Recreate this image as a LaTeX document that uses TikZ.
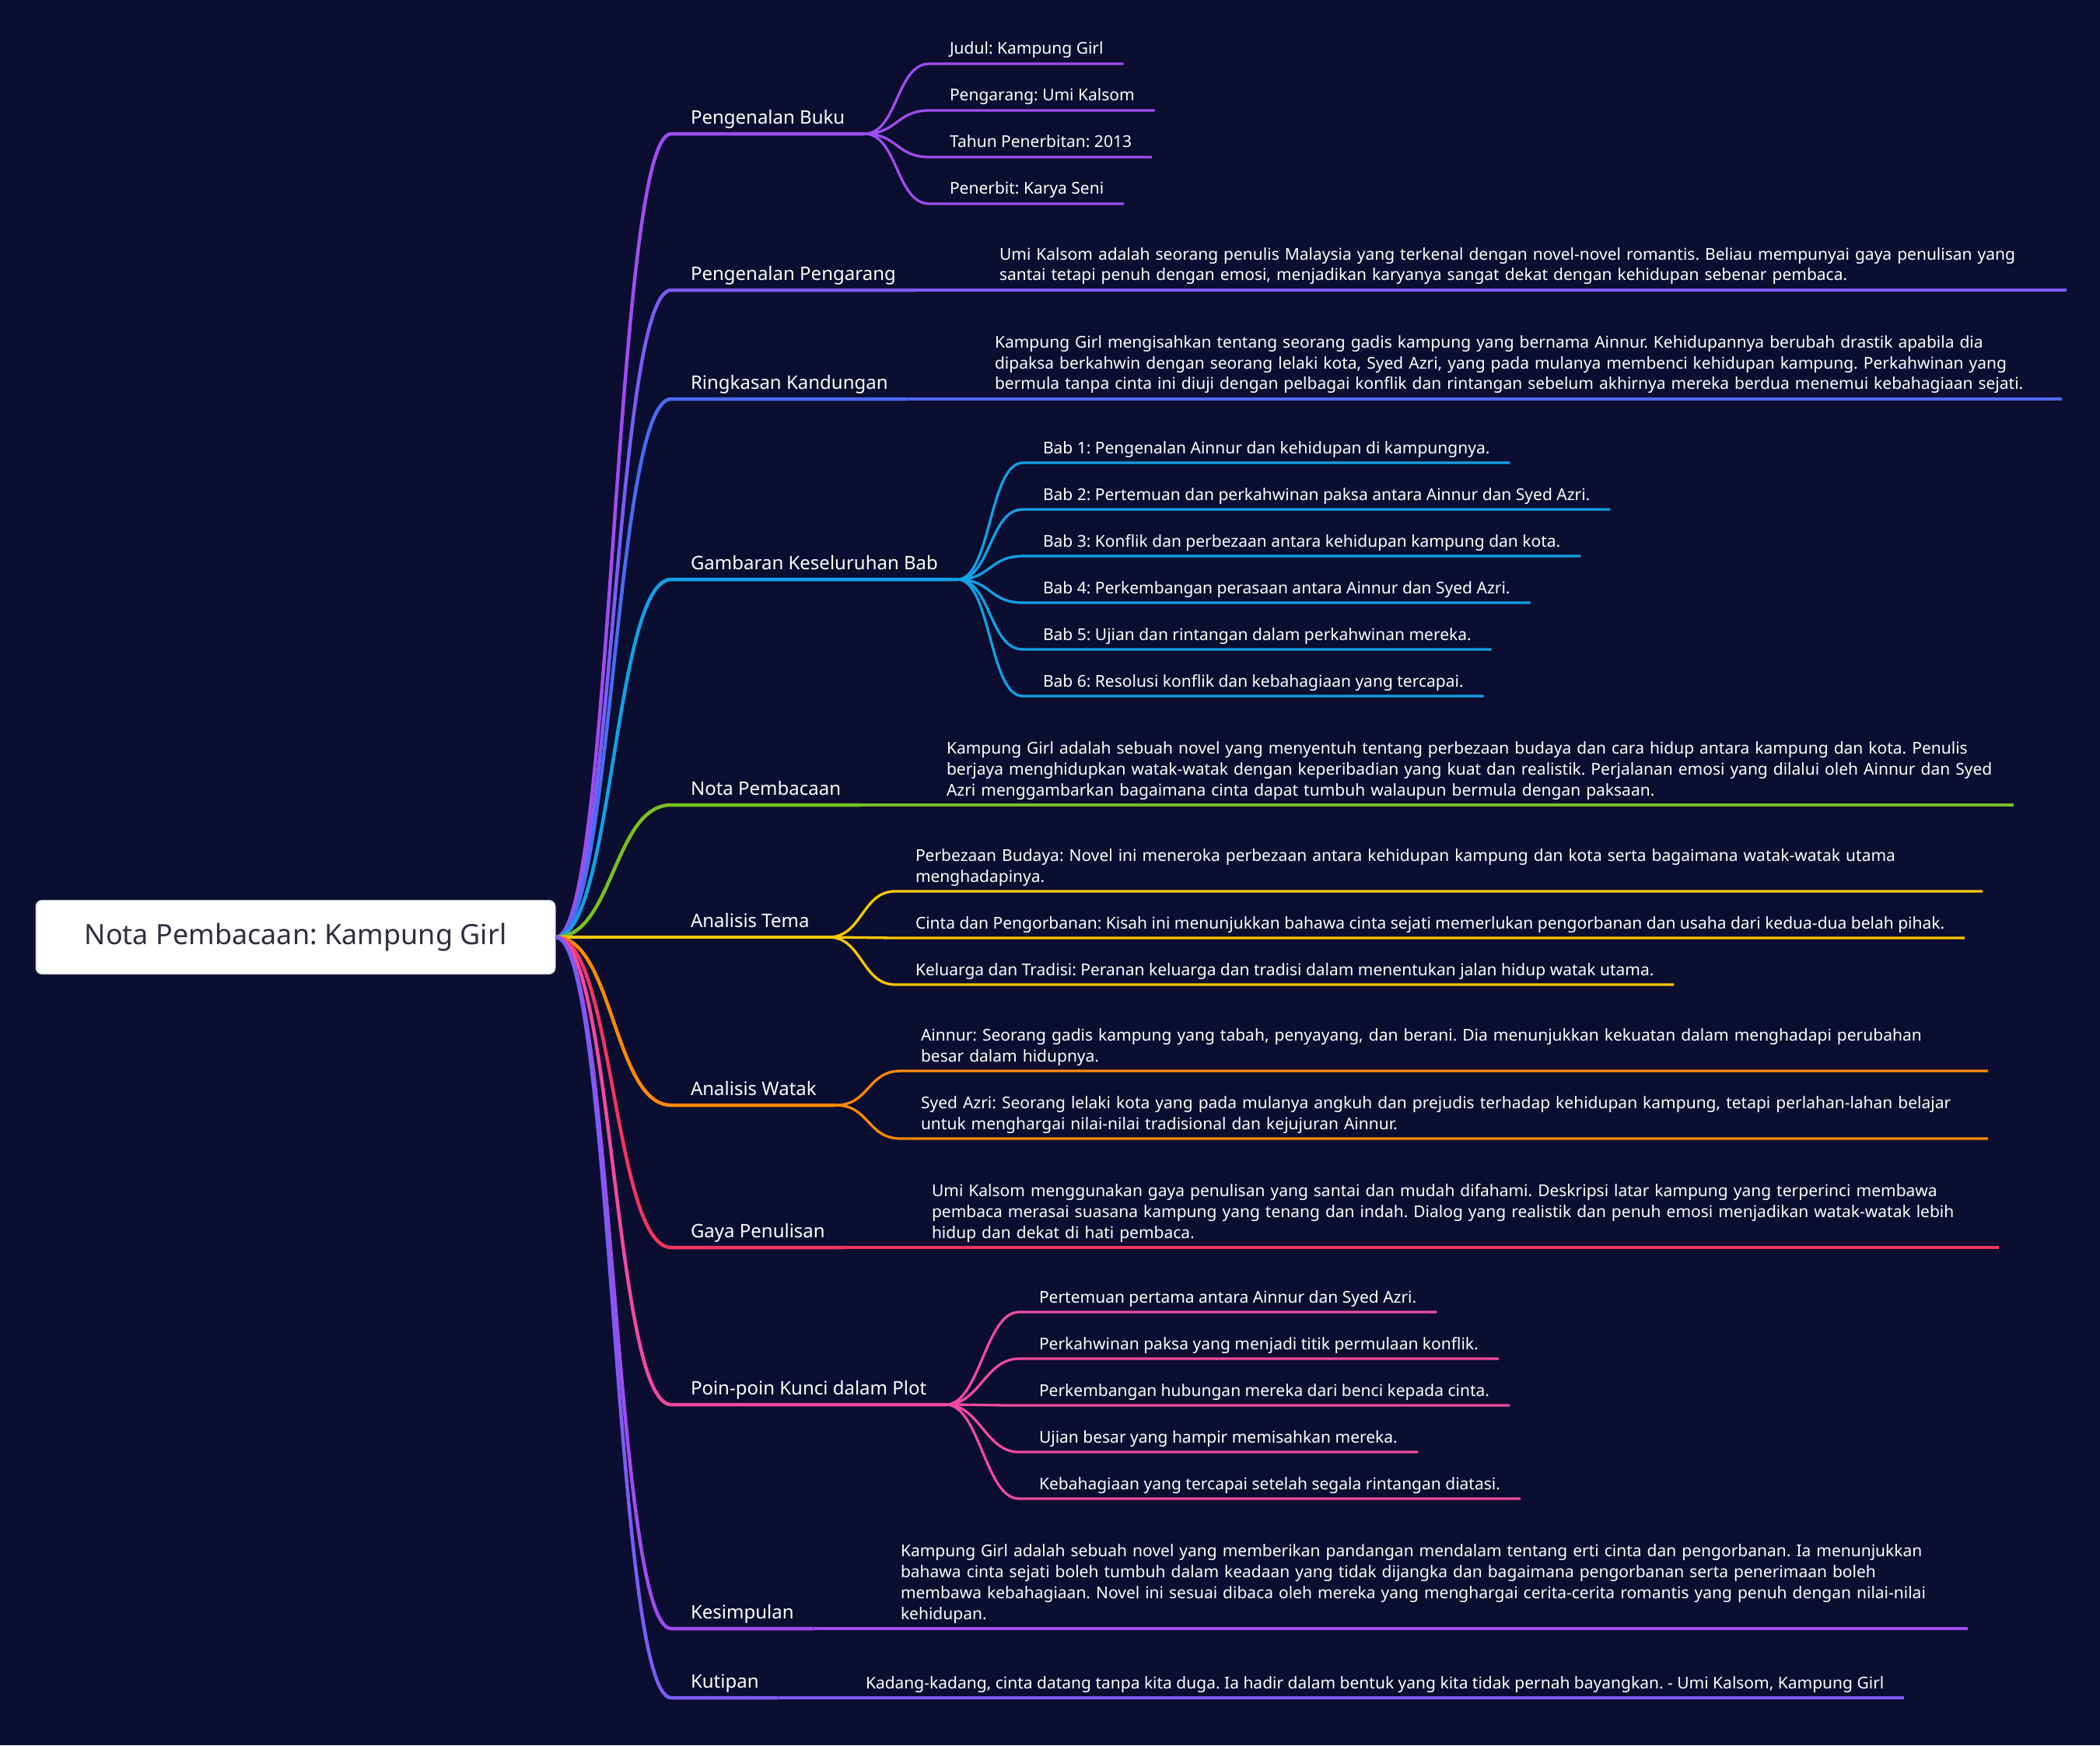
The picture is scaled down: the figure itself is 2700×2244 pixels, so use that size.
\documentclass[tikz,border=0pt]{standalone}
\usepackage{fontspec}
\setmainfont{Noto Sans}

\definecolor{bgnavy}{HTML}{0B0E30}
\definecolor{rootink}{HTML}{2E3040}
\definecolor{cA}{HTML}{A04CF0}
\definecolor{cB}{HTML}{7C5CF5}
\definecolor{cC}{HTML}{4B6BF2}
\definecolor{cD}{HTML}{13A0E6}
\definecolor{cE}{HTML}{78C020}
\definecolor{cF}{HTML}{FFC800}
\definecolor{cG}{HTML}{FF8A00}
\definecolor{cH}{HTML}{F2355F}
\definecolor{cI}{HTML}{F04A9E}

\tikzset{
  hub/.style={draw=gray!50, line width=1pt, fill=white, rounded corners=8pt,
    minimum width=668pt, minimum height=95pt, inner sep=0pt,
    font=\fontsize{36}{44}\selectfont, text=rootink},
  topic/.style={anchor=south west, inner xsep=25pt, inner ysep=2.5pt, outer sep=0pt,
    font=\fontsize{24}{32}\selectfont, text=white, execute at end node=\strut},
  leaf/.style={anchor=south west, inner xsep=26pt, inner ysep=4pt, outer sep=0pt,
    font=\fontsize{21}{26.7}\selectfont, text=white, execute at end node=\strut},
  wide/.style={leaf, text width=1346pt, align=left},
  link/.style={draw=#1, line width=4.5pt},
  twig/.style={draw=#1, line width=3.3pt},
}

\begin{document}
\frenchspacing
\begin{tikzpicture}[x=1pt, y=-1pt]
  \fill[bgnavy] (0,0) rectangle (2700,2244);
  \useasboundingbox (0,0) rectangle (2700,2244);

  \node[hub] (root) at (380,1205) {Nota Pembacaan: Kampung Girl};

  % cabang utama
  \node[topic] (buku) at (863,172) {Pengenalan Buku};
  \node[topic] (pengarang) at (863,373) {Pengenalan Pengarang};
  \node[topic] (ringkasan) at (863,513) {Ringkasan Kandungan};
  \node[topic] (bab) at (863,745) {Gambaran Keseluruhan Bab};
  \node[topic] (nota) at (863,1035) {Nota Pembacaan};
  \node[topic] (tema) at (863,1205) {Analisis Tema};
  \node[topic] (watak) at (863,1421) {Analisis Watak};
  \node[topic] (gaya) at (863,1604) {Gaya Penulisan};
  \node[topic] (plot) at (863,1806) {Poin-poin Kunci dalam Plot};
  \node[topic] (simpul) at (863,2094) {Kesimpulan};
  \node[topic] (kutip) at (863,2183) {Kutipan};

  % Pengenalan Buku
  \node[leaf] (buku1) at (1195,82) {Judul: Kampung Girl};
  \node[leaf] (buku2) at (1195,142) {Pengarang: Umi Kalsom};
  \node[leaf] (buku3) at (1195,202) {Tahun Penerbitan: 2013};
  \node[leaf] (buku4) at (1195,262) {Penerbit: Karya Seni};

  \node[wide] (pengarang1) at (1259,373) {Umi Kalsom adalah seorang penulis Malaysia yang terkenal dengan novel-novel romantis. Beliau mempunyai gaya penulisan yang\\santai tetapi penuh dengan emosi, menjadikan karyanya sangat dekat dengan kehidupan sebenar pembaca.};

  \node[wide] (ringkasan1) at (1253,513) {Kampung Girl mengisahkan tentang seorang gadis kampung yang bernama Ainnur. Kehidupannya berubah drastik apabila dia\\dipaksa berkahwin dengan seorang lelaki kota, Syed Azri, yang pada mulanya membenci kehidupan kampung. Perkahwinan yang\\bermula tanpa cinta ini diuji dengan pelbagai konflik dan rintangan sebelum akhirnya mereka berdua menemui kebahagiaan sejati.};

  % Gambaran Keseluruhan Bab
  \node[leaf] (bab1) at (1315,595) {Bab 1: Pengenalan Ainnur dan kehidupan di kampungnya.};
  \node[leaf] (bab2) at (1315,655) {Bab 2: Pertemuan dan perkahwinan paksa antara Ainnur dan Syed Azri.};
  \node[leaf] (bab3) at (1315,715) {Bab 3: Konflik dan perbezaan antara kehidupan kampung dan kota.};
  \node[leaf] (bab4) at (1315,775) {Bab 4: Perkembangan perasaan antara Ainnur dan Syed Azri.};
  \node[leaf] (bab5) at (1315,835) {Bab 5: Ujian dan rintangan dalam perkahwinan mereka.};
  \node[leaf] (bab6) at (1315,895) {Bab 6: Resolusi konflik dan kebahagiaan yang tercapai.};

  \node[wide] (nota1) at (1191,1035) {Kampung Girl adalah sebuah novel yang menyentuh tentang perbezaan budaya dan cara hidup antara kampung dan kota. Penulis\\berjaya menghidupkan watak-watak dengan keperibadian yang kuat dan realistik. Perjalanan emosi yang dilalui oleh Ainnur dan Syed\\Azri menggambarkan bagaimana cinta dapat tumbuh walaupun bermula dengan paksaan.};

  % Analisis Tema
  \node[wide] (tema1) at (1151,1146) {Perbezaan Budaya: Novel ini meneroka perbezaan antara kehidupan kampung dan kota serta bagaimana watak-watak utama\\menghadapinya.};
  \node[leaf] (tema2) at (1151,1206) {Cinta dan Pengorbanan: Kisah ini menunjukkan bahawa cinta sejati memerlukan pengorbanan dan usaha dari kedua-dua belah pihak.};
  \node[leaf] (tema3) at (1151,1266) {Keluarga dan Tradisi: Peranan keluarga dan tradisi dalam menentukan jalan hidup watak utama.};

  % Analisis Watak
  \node[wide] (watak1) at (1158,1377) {Ainnur: Seorang gadis kampung yang tabah, penyayang, dan berani. Dia menunjukkan kekuatan dalam menghadapi perubahan\\besar dalam hidupnya.};
  \node[wide] (watak2) at (1158,1464) {Syed Azri: Seorang lelaki kota yang pada mulanya angkuh dan prejudis terhadap kehidupan kampung, tetapi perlahan-lahan belajar\\untuk menghargai nilai-nilai tradisional dan kejujuran Ainnur.};

  \node[wide] (gaya1) at (1172,1604) {Umi Kalsom menggunakan gaya penulisan yang santai dan mudah difahami. Deskripsi latar kampung yang terperinci membawa\\pembaca merasai suasana kampung yang tenang dan indah. Dialog yang realistik dan penuh emosi menjadikan watak-watak lebih\\hidup dan dekat di hati pembaca.};

  % Poin-poin Kunci dalam Plot
  \node[leaf] (plot1) at (1310,1687) {Pertemuan pertama antara Ainnur dan Syed Azri.};
  \node[leaf] (plot2) at (1310,1747) {Perkahwinan paksa yang menjadi titik permulaan konflik.};
  \node[leaf] (plot3) at (1310,1807) {Perkembangan hubungan mereka dari benci kepada cinta.};
  \node[leaf] (plot4) at (1310,1867) {Ujian besar yang hampir memisahkan mereka.};
  \node[leaf] (plot5) at (1310,1927) {Kebahagiaan yang tercapai setelah segala rintangan diatasi.};

  \node[wide] (simpul1) at (1132,2094) {Kampung Girl adalah sebuah novel yang memberikan pandangan mendalam tentang erti cinta dan pengorbanan. Ia menunjukkan\\bahawa cinta sejati boleh tumbuh dalam keadaan yang tidak dijangka dan bagaimana pengorbanan serta penerimaan boleh\\membawa kebahagiaan. Novel ini sesuai dibaca oleh mereka yang menghargai cerita-cerita romantis yang penuh dengan nilai-nilai\\kehidupan.};

  \node[leaf] (kutip1) at (1087,2183) {Kadang-kadang, cinta datang tanpa kita duga. Ia hadir dalam bentuk yang kita tidak pernah bayangkan. - Umi Kalsom, Kampung Girl};

  % penghubung dari akar
  \draw[link=cA] (root.east) .. controls +(74,0) and +(-74,0) .. (buku.south west) -- (buku.south east);
  \draw[link=cB] (root.east) .. controls +(74,0) and +(-74,0) .. (pengarang.south west) -- (pengarang.south east);
  \draw[link=cC] (root.east) .. controls +(74,0) and +(-74,0) .. (ringkasan.south west) -- (ringkasan.south east);
  \draw[link=cD] (root.east) .. controls +(74,0) and +(-74,0) .. (bab.south west) -- (bab.south east);
  \draw[link=cE] (root.east) .. controls +(74,0) and +(-74,0) .. (nota.south west) -- (nota.south east);
  \draw[link=cF] (root.east) .. controls +(74,0) and +(-74,0) .. (tema.south west) -- (tema.south east);
  \draw[link=cG] (root.east) .. controls +(74,0) and +(-74,0) .. (watak.south west) -- (watak.south east);
  \draw[link=cH] (root.east) .. controls +(74,0) and +(-74,0) .. (gaya.south west) -- (gaya.south east);
  \draw[link=cI] (root.east) .. controls +(74,0) and +(-74,0) .. (plot.south west) -- (plot.south east);
  \draw[link=cA] (root.east) .. controls +(74,0) and +(-74,0) .. (simpul.south west) -- (simpul.south east);
  \draw[link=cB] (root.east) .. controls +(74,0) and +(-74,0) .. (kutip.south west) -- (kutip.south east);

  % penghubung ke daun
  \foreach \n in {buku1,buku2,buku3,buku4}
    \draw[twig=cA] (buku.south east) .. controls +(43,0) and +(-43,0) .. (\n.south west) -- (\n.south east);
  \draw[twig=cB] (pengarang.south east) -- (pengarang1.south west) -- (pengarang1.south east);
  \draw[twig=cC] (ringkasan.south east) -- (ringkasan1.south west) -- (ringkasan1.south east);
  \foreach \n in {bab1,bab2,bab3,bab4,bab5,bab6}
    \draw[twig=cD] (bab.south east) .. controls +(43,0) and +(-43,0) .. (\n.south west) -- (\n.south east);
  \draw[twig=cE] (nota.south east) -- (nota1.south west) -- (nota1.south east);
  \foreach \n in {tema1,tema2,tema3}
    \draw[twig=cF] (tema.south east) .. controls +(43,0) and +(-43,0) .. (\n.south west) -- (\n.south east);
  \foreach \n in {watak1,watak2}
    \draw[twig=cG] (watak.south east) .. controls +(43,0) and +(-43,0) .. (\n.south west) -- (\n.south east);
  \draw[twig=cH] (gaya.south east) -- (gaya1.south west) -- (gaya1.south east);
  \foreach \n in {plot1,plot2,plot3,plot4,plot5}
    \draw[twig=cI] (plot.south east) .. controls +(43,0) and +(-43,0) .. (\n.south west) -- (\n.south east);
  \draw[twig=cA] (simpul.south east) -- (simpul1.south west) -- (simpul1.south east);
  \draw[twig=cB] (kutip.south east) -- (kutip1.south west) -- (kutip1.south east);
\end{tikzpicture}
\end{document}
